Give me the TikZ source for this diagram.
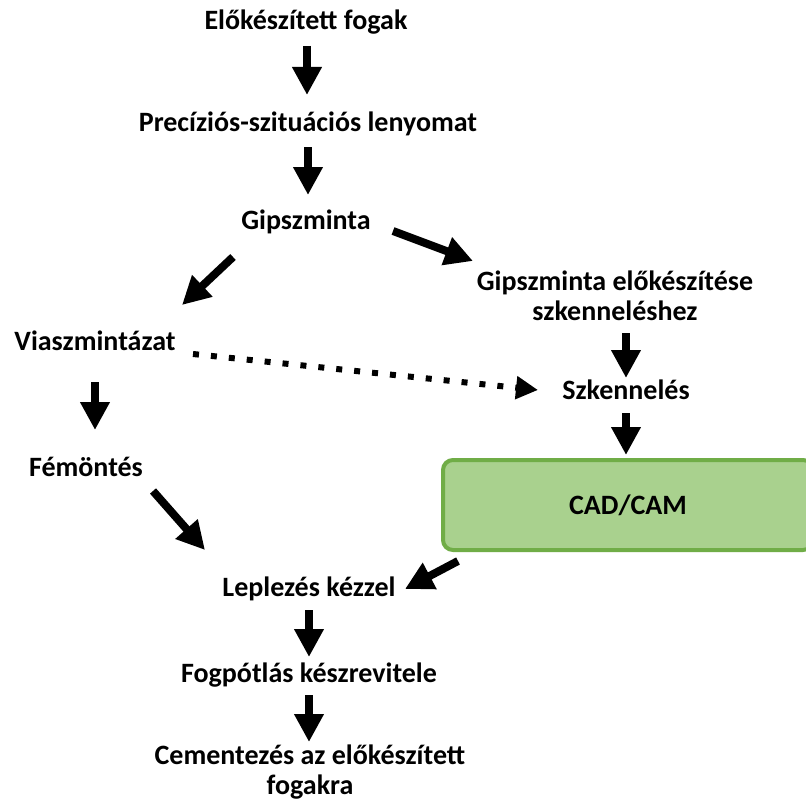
\documentclass[tikz,border=0pt]{standalone}
\usepackage{fontspec}
\setmainfont{Carlito}
\usetikzlibrary{arrows.meta}
\definecolor{camfill}{HTML}{A9D18E}
\definecolor{camdraw}{HTML}{70AD47}
\tikzset{
 lbl/.style={font=\bfseries\fontsize{28}{29.5}\selectfont, inner sep=0pt, anchor=base, align=center},
 blk/.style={line width=8pt, -{Triangle[width=28pt,length=28pt]}},
 dotarr/.style={line width=6pt, dash pattern=on 6pt off 12pt, -{Triangle[width=22pt,length=22pt]}},
}
\begin{document}
\begin{tikzpicture}[x=1pt,y=-1pt]
\clip (0,0) rectangle (806,800);
\fill[white] (0,0) rectangle (806,800);
% text nodes (base anchor = baseline of last line)
\node[lbl] (n1) at (306,30) {Előkészített fogak};
\node[lbl] (n2) at (308,131) {Precíziós-szituációs lenyomat};
\node[lbl] (n3) at (306,229) {Gipszminta};
\node[lbl] (n4) at (615,320) {Gipszminta előkészítése\\szkenneléshez};
\node[lbl] (n5) at (95,350) {Viaszmintázat};
\node[lbl] (n6) at (626,399) {Szkennelés};
\node[lbl] (n7) at (86,476) {Fémöntés};
\node[draw=camdraw, fill=camfill, line width=4pt, rounded corners=10pt,
      minimum width=370pt, minimum height=90pt, inner sep=0pt,
      font=\bfseries\fontsize{28}{29.5}\selectfont] (cad) at (628,505) {CAD/CAM};
\node[lbl] (n8) at (309,596) {Leplezés kézzel};
\node[lbl] (n9) at (309,682) {Fogpótlás készrevitele};
\node[lbl] (n10) at (310,794) {Cementezés az előkészített\\fogakra};
% arrow end coordinates
\coordinate (a1s) at (307,46);  \coordinate (a1e) at (307,95);
\coordinate (a2s) at (308,147); \coordinate (a2e) at (308,195);
\coordinate (a3s) at (233,257); \coordinate (a3e) at (182,305);
\coordinate (a4s) at (393,231); \coordinate (a4e) at (473,261);
\coordinate (a5s) at (626,333); \coordinate (a5e) at (626,378);
\coordinate (a6s) at (626,413); \coordinate (a6e) at (626,455);
\coordinate (a7s) at (95,382);  \coordinate (a7e) at (95,430);
\coordinate (a8s) at (193,354); \coordinate (a8e) at (538,390);
\coordinate (a9s) at (153,491); \coordinate (a9e) at (205,550);
\coordinate (a10s) at (458,561); \coordinate (a10e) at (405,589);
\coordinate (a11s) at (309,610); \coordinate (a11e) at (309,657);
\coordinate (a12s) at (309,695); \coordinate (a12e) at (309,742);
% arrows
\draw[blk] (a1s) -- (a1e);
\draw[blk] (a2s) -- (a2e);
\draw[blk] (a3s) -- (a3e);
\draw[blk] (a4s) -- (a4e);
\draw[blk] (a5s) -- (a5e);
\draw[blk] (a6s) -- (a6e);
\draw[blk] (a7s) -- (a7e);
\draw[dotarr] (a8s) -- (a8e);
\draw[blk] (a9s) -- (a9e);
\draw[blk] (a10s) -- (a10e);
\draw[blk] (a11s) -- (a11e);
\draw[blk] (a12s) -- (a12e);
\end{tikzpicture}
\end{document}
